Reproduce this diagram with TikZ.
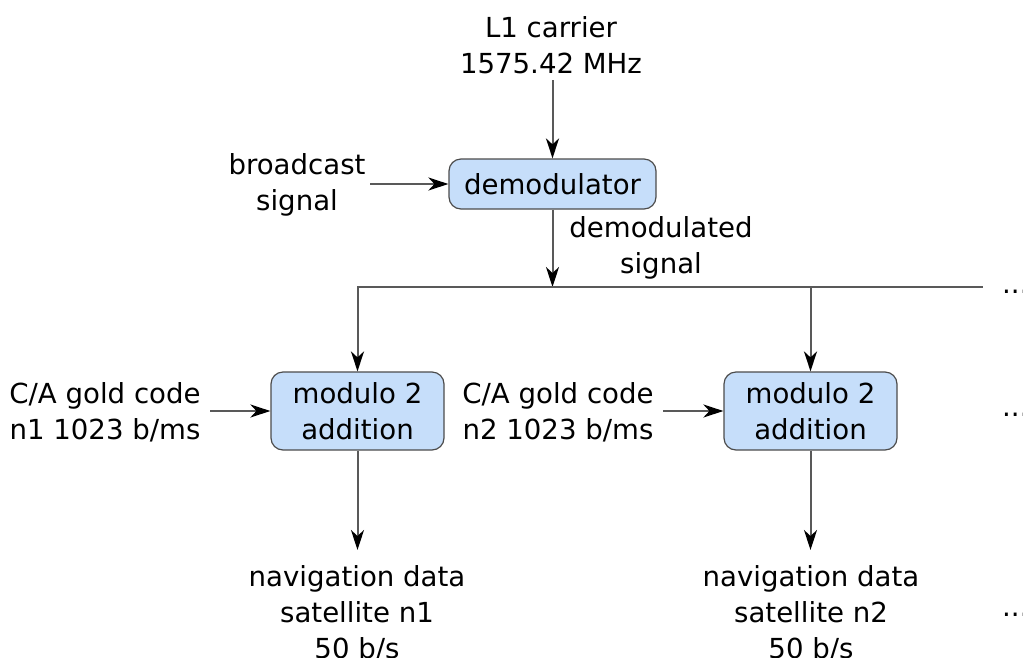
\documentclass[tikz,border=0pt]{standalone}
\usepackage{fontspec}
\setmainfont{DejaVu Sans}
\usetikzlibrary{arrows.meta}
\begin{document}
\begin{tikzpicture}[x=1pt,y=-1pt,
  box/.style={draw=black!70, fill=boxfill, rounded corners=12pt, line width=1.2pt,
    minimum height=50pt, align=center, inner sep=0pt},
  lbl/.style={align=center, inner sep=0pt, font=\fontsize{27.6}{36}\selectfont},
  conn/.style={draw=black!65, line width=2pt},
  arr/.style={conn, -{Stealth[length=20pt,width=13pt,inset=6pt,color=black]}},
  font=\fontsize{27.6}{36}\selectfont]
\definecolor{boxfill}{RGB}{198,222,250}
\useasboundingbox (0,0) rectangle (1023,657);
\node[lbl] (l1) at (551,45) {L1 carrier\\1575.42 MHz};
\node[box, minimum width=207pt] (dem) at (552.5,184) {demodulator};
\node[lbl] (bc) at (297,185) {broadcast\\signal};
\node[lbl] (dms) at (661,248) {demodulated\\signal};
\coordinate (bcend) at (370,184);
\coordinate (l1end) at (551,80);
\coordinate (j) at (551,287);
\coordinate (jl) at (357,287);
\coordinate (jm) at (811,287);
\coordinate (jr) at (983,287);
\node[box, minimum width=173pt, minimum height=78pt] (m1) at (357.5,411) {modulo 2\\addition};
\node[box, minimum width=173pt, minimum height=78pt] (m2) at (810.5,411) {modulo 2\\addition};
\node[lbl] (ca1) at (105,412) {C/A gold code\\n1 1023 b/ms};
\node[lbl] (ca2) at (558,412) {C/A gold code\\n2 1023 b/ms};
\coordinate (ca1end) at (210,411);
\coordinate (ca2end) at (663,411);
\node[lbl] (nd1) at (357,613) {navigation data\\satellite n1\\50 b/s};
\node[lbl] (nd2) at (811,613) {navigation data\\satellite n2\\50 b/s};
\coordinate (o1) at (357,550);
\coordinate (o2) at (811,550);
\node[lbl, anchor=west] (d1) at (1002,292) {...};
\node[lbl, anchor=west] (d2) at (1002,415) {...};
\node[lbl, anchor=west] (d3) at (1002,615) {...};
% connectors
\draw[arr] (dem.north |- l1end) -- (dem.north);
\draw[arr] (bcend |- dem.west) -- (dem.west);
\draw[arr] (dem.south) -- (dem.south |- j);
\draw[conn] (jl) -- (jr);
\draw[arr] (m1.north |- jl) -- (m1.north);
\draw[arr] (m2.north |- jm) -- (m2.north);
\draw[arr] (ca1end |- m1.west) -- (m1.west);
\draw[arr] (ca2end |- m2.west) -- (m2.west);
\draw[arr] (m1.south) -- (m1.south |- o1);
\draw[arr] (m2.south) -- (m2.south |- o2);
\end{tikzpicture}
\end{document}
